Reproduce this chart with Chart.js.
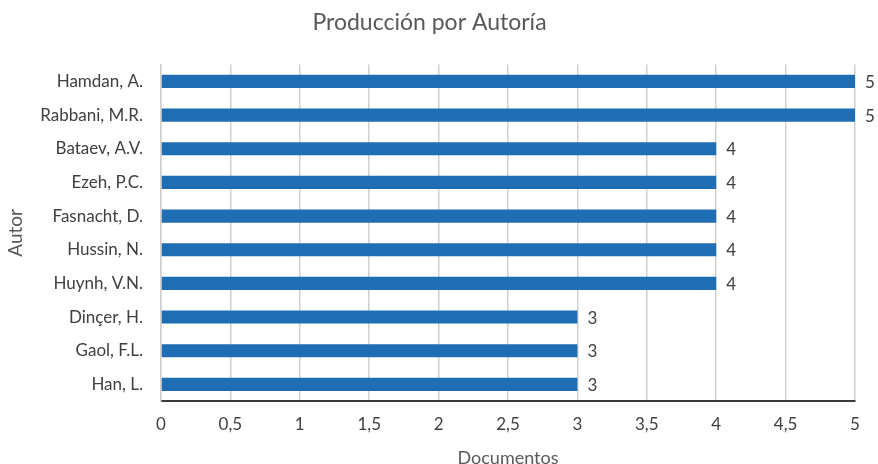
<!DOCTYPE html>
<html>
<head>
<meta charset="utf-8">
<script src="https://cdn.jsdelivr.net/npm/chart.js@4/dist/chart.umd.min.js"></script>
<style>
  html, body { margin: 0; padding: 0; background: #fff; }
  #wrap { width: 878px; height: 464px; }
</style>
</head>
<body>
<div id="wrap"><canvas id="authorChart"></canvas></div>
<script>
// ====== Data ======
const authors = [
  "Hamdan, A.", "Rabbani, M.R.", "Bataev, A.V.", "Ezeh, P.C.", "Fasnacht, D.",
  "Hussin, N.", "Huynh, V.N.", "Dinçer, H.", "Gaol, F.L.", "Han, L."
];
const documents = [5, 5, 4, 4, 4, 4, 4, 3, 3, 3];

const FONT = "Lato, 'Open Sans', sans-serif";
const TEXT = "#595959";

// ====== Value labels next to each bar ======
const barValueLabels = {
  id: "barValueLabels",
  afterDatasetsDraw(chart) {
    const ctx = chart.ctx;
    const meta = chart.getDatasetMeta(0);
    ctx.save();
    ctx.font = "17px " + FONT;
    ctx.fillStyle = "#404040";
    ctx.textAlign = "left";
    ctx.textBaseline = "middle";
    meta.data.forEach((bar, i) => {
      ctx.fillText(String(documents[i]), bar.x + 10, bar.y + 1);
    });
    ctx.restore();
  },
};

// ====== Chart ======
const chartCtx = document.getElementById("authorChart");
new Chart(chartCtx, {
  type: "bar",
  data: {
    labels: authors,
    datasets: [
      {
        data: documents,
        backgroundColor: "#1f6db5",
        barPercentage: 0.39,
        categoryPercentage: 1,
      },
    ],
  },
  options: {
    indexAxis: "y",
    responsive: true,
    maintainAspectRatio: false,
    animation: false,
    layout: { padding: { left: 4, right: 23, top: 9, bottom: -4 } },
    plugins: {
      legend: { display: false },
      tooltip: { enabled: false },
      title: {
        display: true,
        text: "Producción por Autoría",
        color: TEXT,
        font: { family: FONT, size: 23, weight: "normal" },
        padding: { top: 0, bottom: 28 },
      },
    },
    scales: {
      x: {
        min: 0,
        max: 5,
        ticks: {
          stepSize: 0.5,
          color: "#404040",
          padding: 15,
          font: { family: FONT, size: 17, lineHeight: 1 },
          callback: (v) => String(v).replace(".", ","),
        },
        grid: { color: "#d0d0d0", lineWidth: 1.5, drawTicks: false },
        border: { color: "#3a3a3a", width: 2 },
        title: {
          display: true,
          text: "Documentos",
          color: TEXT,
          font: { family: FONT, size: 18, lineHeight: 1.1 },
          padding: { top: 0, bottom: 0 },
        },
      },
      y: {
        ticks: {
          color: "#404040",
          padding: 18,
          font: { family: FONT, size: 17 },
        },
        grid: { display: false, drawTicks: false },
        border: { color: "#d0d0d0", width: 1.5 },
        title: {
          display: true,
          text: "Autor",
          color: TEXT,
          font: { family: FONT, size: 19 },
          padding: { top: 0, bottom: 0 },
        },
        afterFit(scale) {
          scale.width = 157;
        },
      },
    },
  },
  plugins: [barValueLabels],
});
</script>
</body>
</html>
